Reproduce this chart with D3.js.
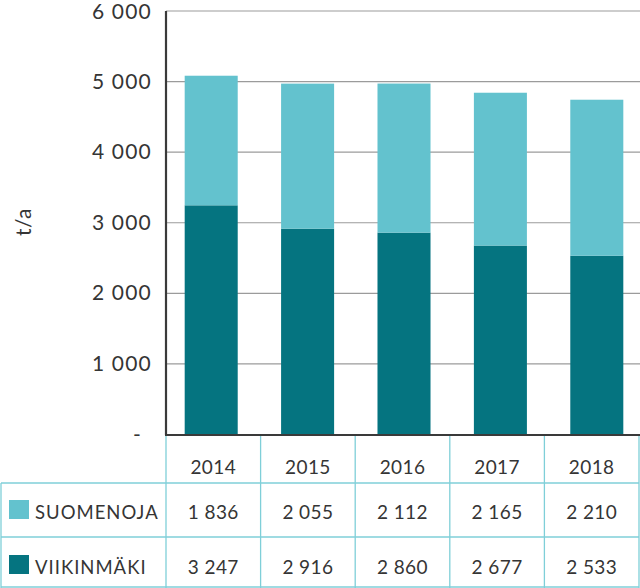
<!DOCTYPE html>
<html>
<head>
<meta charset="utf-8">
<script src="https://cdn.jsdelivr.net/npm/d3@7"></script>
<style>
  body { margin: 0; background: #fff; }
  svg { display: block; font-family: Lato, "Noto Sans", sans-serif; }
</style>
</head>
<body>
<script>
var years = ['2014', '2015', '2016', '2017', '2018'];
var suomenoja = [1836, 2055, 2112, 2165, 2210];
var viikinmaki = [3247, 2916, 2860, 2677, 2533];
var seriesNames = ['SUOMENOJA', 'VIIKINMÄKI'];
var yTicks = [0, 1000, 2000, 3000, 4000, 5000, 6000];

var darkTeal = '#057480',
    lightTeal = '#63c2ce',
    lineTeal = '#7fcfd8',
    textCol = '#353535';

var svg = d3.select('body')
    .append('svg')
    .attr('width', 640)
    .attr('height', 588);

var locale = d3.formatLocale({decimal: ',', thousands: ' ', grouping: [3], currency: ['', '']});
var fmt = locale.format(',d');

var y = d3.scaleLinear().domain([0, 6000]).range([434.5, 11]);

// bars sit on a band scale; the table columns on another one
var x = d3.scaleBand().domain(years).range([163, 645]).paddingInner(0.45).paddingOuter(0.225);
var col = d3.scaleBand().domain(years).range([166, 639]);

// gridlines
svg.append('g').selectAll('line')
    .data(yTicks.filter(function(d){ return d > 0; }))
    .enter().append('line')
    .attr('x1', 166).attr('x2', 640)
    .attr('y1', function(d){ return y(d); })
    .attr('y2', function(d){ return y(d); })
    .attr('stroke', '#9b9b9b')
    .attr('stroke-width', 1.2);

// y labels
svg.append('g').selectAll('text')
    .data(yTicks)
    .enter().append('text')
    .attr('x', function(d){ return d === 0 ? 142 : 152; })
    .attr('y', function(d){ return y(d) + (d === 6000 ? 8 : 7); })
    .attr('text-anchor', 'end')
    .attr('font-size', 21)
    .attr('letter-spacing', 1.2)
    .attr('fill', textCol)
    .text(function(d){ return d === 0 ? '-' : fmt(d); });

svg.append('text')
    .attr('transform', 'translate(31,' + 222 + ') rotate(-90)')
    .attr('text-anchor', 'middle')
    .attr('font-size', 21)
    .attr('letter-spacing', 0.5)
    .attr('fill', textCol)
    .text('t/a');

// stacked bars
var rows = years.map(function(yr, i){
    return {year: yr, viikinmaki: viikinmaki[i], suomenoja: suomenoja[i]};
});
var stack = d3.stack().keys(['viikinmaki', 'suomenoja'])(rows);
var colors = {viikinmaki: darkTeal, suomenoja: lightTeal};

svg.append('g').selectAll('g')
    .data(stack)
    .enter().append('g')
    .attr('fill', function(s){ return colors[s.key]; })
    .selectAll('rect')
    .data(function(s){ return s; })
    .enter().append('rect')
    .attr('x', function(d){ return x(d.data.year); })
    .attr('width', x.bandwidth())
    .attr('y', function(d){ return y(d[1]); })
    .attr('height', function(d){ return y(d[0]) - y(d[1]); });

// axis lines
svg.append('line')
    .attr('x1', 166).attr('x2', 166).attr('y1', 11).attr('y2', 435)
    .attr('stroke', '#3a3a3a').attr('stroke-width', 2.2);
svg.append('line')
    .attr('x1', 165).attr('x2', 640).attr('y1', 435).attr('y2', 435)
    .attr('stroke', '#3a3a3a').attr('stroke-width', 2.2);

// table
var tab = svg.append('g').attr('stroke', lineTeal).attr('stroke-width', 1.3);
var vLines = years.map(function(d){ return col(d); }).concat([639]);
tab.selectAll('line.v')
    .data(vLines)
    .enter().append('line')
    .attr('class', 'v')
    .attr('x1', function(d){ return d; }).attr('x2', function(d){ return d; })
    .attr('y1', 436).attr('y2', 588);
tab.append('line').attr('x1', 1).attr('x2', 1).attr('y1', 483).attr('y2', 588);
tab.selectAll('line.h')
    .data([483, 537, 587])
    .enter().append('line')
    .attr('class', 'h')
    .attr('x1', 1).attr('x2', 639)
    .attr('y1', function(d){ return d; }).attr('y2', function(d){ return d; });

svg.append('g').selectAll('text')
    .data(years)
    .enter().append('text')
    .attr('x', function(d){ return col(d) + col.bandwidth() / 2; })
    .attr('y', 474)
    .attr('text-anchor', 'middle')
    .attr('font-size', 19)
    .attr('letter-spacing', 0.4)
    .attr('fill', textCol)
    .text(function(d){ return d; });

var tableRows = [
    {name: seriesNames[0], values: suomenoja, color: lightTeal, base: 519},
    {name: seriesNames[1], values: viikinmaki, color: darkTeal, base: 574}
];

tableRows.forEach(function(r){
    svg.append('rect')
        .attr('x', 9).attr('y', r.base - 19)
        .attr('width', 20).attr('height', 19)
        .attr('fill', r.color);
    svg.append('text')
        .attr('x', 35).attr('y', r.base)
        .attr('font-size', 18.5)
        .attr('letter-spacing', 1)
        .attr('fill', textCol)
        .text(r.name);
    svg.append('g').selectAll('text')
        .data(r.values)
        .enter().append('text')
        .attr('x', function(d, i){ return col(years[i]) + col.bandwidth() / 2; })
        .attr('y', r.base)
        .attr('text-anchor', 'middle')
        .attr('font-size', 19)
        .attr('letter-spacing', 0.4)
        .attr('fill', textCol)
        .text(function(d){ return fmt(d); });
});
</script>
</body>
</html>
